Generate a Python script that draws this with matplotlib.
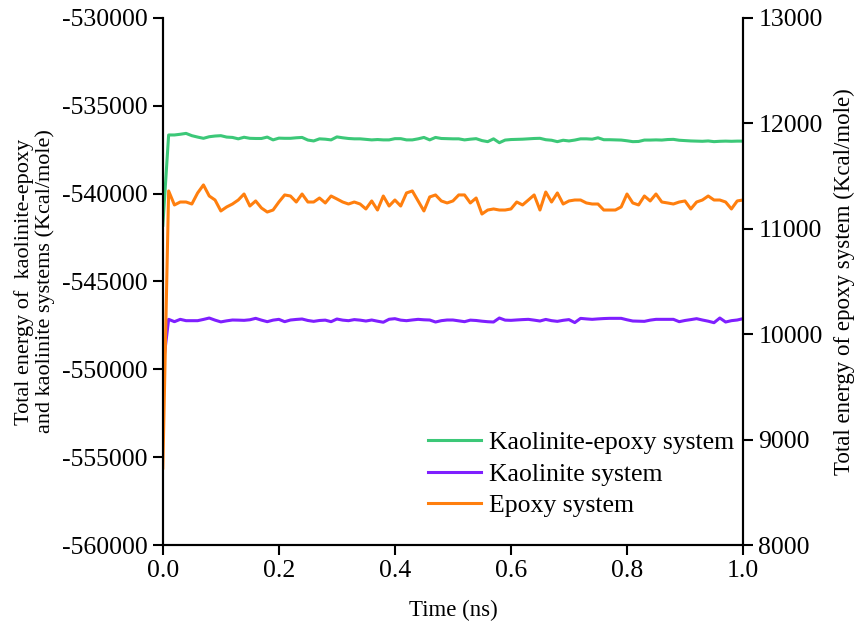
import matplotlib
matplotlib.use("Agg")
import matplotlib.pyplot as plt
import numpy as np

plt.rcParams['font.family'] = ['Liberation Serif', 'DejaVu Serif']
plt.rcParams['axes.unicode_minus'] = False

# time axis, 0.01 ns steps
time_ns = np.round(np.arange(101) * 0.01, 2)

# kaolinite-epoxy system (left axis)
kaolinite_epoxy = [
    -541800, -536660, -536660, -536620, -536570, -536700, -536780, -536850, -536760, -536720,
    -536700, -536780, -536800, -536880, -536790, -536850, -536860, -536860, -536780, -536940,
    -536840, -536850, -536850, -536820, -536800, -536950, -537000, -536880, -536900, -536940,
    -536770, -536820, -536860, -536880, -536880, -536910, -536940, -536920, -536940, -536940,
    -536870, -536870, -536940, -536940, -536880, -536800, -536940, -536800, -536860, -536870,
    -536880, -536880, -536940, -536900, -536870, -536980, -537040, -536880, -537100, -536950,
    -536920, -536910, -536900, -536880, -536860, -536850, -536930, -536960, -537040, -536960,
    -537000, -536950, -536880, -536880, -536900, -536820, -536930, -536930, -536940, -536950,
    -536990, -537040, -537030, -536950, -536950, -536940, -536950, -536920, -536910, -536960,
    -536980, -537000, -537010, -537020, -537000, -537040, -537020, -537010, -537020, -537010,
    -537010,
]

# kaolinite system (left axis)
kaolinite = [
    -549920, -547155, -547288, -547155, -547231, -547231, -547231, -547160, -547080, -547200,
    -547300, -547240, -547193, -547200, -547212, -547180, -547098, -547200, -547288, -547200,
    -547155, -547288, -547193, -547160, -547136, -547220, -547269, -547220, -547200, -547288,
    -547136, -547200, -547231, -547170, -547200, -547250, -547193, -547260, -547320, -547150,
    -547117, -547200, -547231, -547190, -547155, -547180, -547193, -547307, -547230, -547193,
    -547193, -547240, -547288, -547200, -547220, -547260, -547290, -547307, -547079, -547200,
    -547212, -547190, -547170, -547155, -547200, -547250, -547160, -547230, -547269, -547210,
    -547170, -547340, -547100, -547130, -547155, -547130, -547110, -547098, -547098, -547098,
    -547180, -547250, -547260, -547269, -547200, -547155, -547155, -547155, -547155, -547288,
    -547220, -547170, -547117, -547193, -547260, -547345, -547079, -547307, -547230, -547193,
    -547117,
]

# epoxy system (right axis)
epoxy = [
    8730, 11359, 11226, 11254, 11254, 11235, 11340, 11416, 11311, 11273,
    11169, 11207, 11235, 11273, 11330, 11216, 11264, 11197, 11159, 11178,
    11254, 11321, 11311, 11254, 11330, 11254, 11254, 11292, 11245, 11311,
    11283, 11254, 11235, 11254, 11235, 11188, 11264, 11178, 11311, 11216,
    11273, 11216, 11340, 11359, 11264, 11169, 11302, 11321, 11264, 11245,
    11264, 11321, 11321, 11245, 11292, 11140, 11178, 11188, 11178, 11178,
    11188, 11254, 11226, 11273, 11321, 11178, 11349, 11254, 11340, 11235,
    11264, 11273, 11273, 11245, 11235, 11235, 11178, 11178, 11178, 11207,
    11330, 11245, 11226, 11311, 11264, 11330, 11254, 11245, 11235, 11254,
    11264, 11188, 11254, 11273, 11311, 11273, 11273, 11254, 11188, 11264,
    11273,
]

labels = ['Kaolinite-epoxy system', 'Kaolinite system', 'Epoxy system']
colors = ['#3cc878', '#7f1fff', '#ff7f0e']

fig = plt.figure(figsize=(8.57, 6.24), dpi=100)
ax1 = fig.add_axes([0.190, 0.1266, 0.677, 0.8446])
ax2 = ax1.twinx()

l1, = ax1.plot(time_ns, kaolinite_epoxy, color=colors[0], lw=2.2, label=labels[0])
l2, = ax1.plot(time_ns, kaolinite, color=colors[1], lw=2.2, label=labels[1])
l3, = ax2.plot(time_ns, epoxy, color=colors[2], lw=2.2, label=labels[2])

ax1.set_xlim(0, 1.0)
ax1.set_ylim(-560000, -530000)
ax2.set_ylim(8000, 13000)
ax1.set_xticks(np.arange(0, 1.01, 0.2))
ax1.set_xticklabels(['%.1f' % v for v in np.arange(0, 1.01, 0.2)])
ax1.set_yticks(np.arange(-560000, -529999, 5000))
ax2.set_yticks(np.arange(8000, 13001, 1000))

for ax in (ax1, ax2):
    ax.spines['top'].set_visible(False)
    for s in ax.spines.values():
        s.set_linewidth(1.5)
    ax.tick_params(direction='out', length=7, width=1.5, labelsize=18.5, pad=4)

ax1.set_xlabel('Time (ns)', fontsize=16.5, labelpad=13)
ax1.set_ylabel('Total energy of  kaolinite-epoxy\nand kaolinite systems (Kcal/mole)',
               fontsize=16, labelpad=5, linespacing=1.05)
ax2.set_ylabel('Total energy of epoxy system (Kcal/mole)', fontsize=16.5, labelpad=8)

ax1.legend([l1, l2, l3], labels, loc='center left', bbox_to_anchor=(0.418, 0.134),
           frameon=False, fontsize=18.5, handlelength=2.05, handletextpad=0.3,
           labelspacing=0.33)

fig.savefig('out.png', dpi=100)
